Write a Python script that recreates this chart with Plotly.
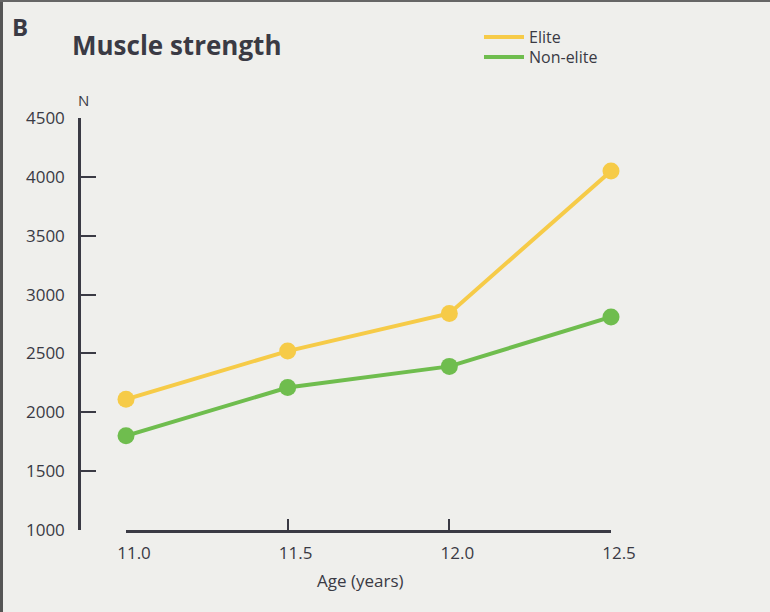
import plotly.graph_objects as go

ages = [11.0, 11.5, 12.0, 12.5]
elite = [2110, 2520, 2840, 4050]
non_elite = [1800, 2210, 2390, 2810]
y_ticks = [1000, 1500, 2000, 2500, 3000, 3500, 4000, 4500]
x_ticks = [11.0, 11.5, 12.0, 12.5]
x_tick_labels = ["11.0", "11.5", "12.0", "12.5"]

YELLOW = "#f6cb48"
GREEN = "#6fbd4e"
INK = "#3a3a44"
BG = "#efefec"
FONT = "Open Sans"

W, H = 770, 612
def px(x): return x / W
def py(y): return 1 - y / H

fig = go.Figure()

# legend-only entries live on the (hidden) x / y subplot so the y axis is anchored at its left edge
for name, col, lg in [("Elite", YELLOW, "legend"), ("Non-elite", GREEN, "legend2")]:
    fig.add_trace(go.Scatter(
        x=[None], y=[None], mode="lines", name=name, legend=lg,
        xaxis="x", yaxis="y",
        line=dict(color=col, width=4),
    ))
for name, vals, col in [("Elite", elite, YELLOW), ("Non-elite", non_elite, GREEN)]:
    fig.add_trace(go.Scatter(
        x=ages, y=vals, mode="lines+markers", name=name, showlegend=False,
        xaxis="x2", yaxis="y",
        line=dict(color=col, width=4),
        marker=dict(color=col, size=17),
        cliponaxis=False,
    ))

legend_common = dict(xanchor="left", yanchor="middle", bgcolor="rgba(0,0,0,0)",
                     font=dict(size=16, color=INK, family=FONT), itemwidth=40)

fig.update_layout(
    width=W, height=H,
    autosize=False,
    margin=dict(l=0, r=0, t=0, b=0, pad=0, autoexpand=False),
    paper_bgcolor=BG, plot_bgcolor=BG,
    font=dict(family=FONT, color=INK, size=16),
    hovermode=False,
    xaxis=dict(
        domain=[px(81), px(611)], range=[0, 1], visible=False, automargin=False,
        anchor="y", showgrid=False, zeroline=False,
    ),
    xaxis2=dict(
        domain=[px(126), px(611)], range=[11.0, 12.5],
        showgrid=False, zeroline=False, automargin=False,
        showline=True, linecolor=INK, linewidth=2.5,
        ticks="inside", ticklen=11, tickwidth=2, tickcolor=INK,
        tickvals=x_ticks, ticktext=x_tick_labels,
        ticklabelstandoff=6, ticklabelshift=8,
        tickfont=dict(size=17, color=INK, family=FONT),
        anchor="y",
    ),
    yaxis=dict(
        domain=[py(530), py(118)], range=[1000, 4500],
        showgrid=False, zeroline=False, automargin=False,
        showline=True, linecolor=INK, linewidth=2.5,
        ticks="inside", ticklen=15, tickwidth=2, tickcolor=INK,
        tickvals=y_ticks,
        ticklabelstandoff=10,
        tickfont=dict(size=17, color=INK, family=FONT),
        anchor="x",
    ),
    legend=dict(x=px(479), y=py(37), **legend_common),
    legend2=dict(x=px(479), y=py(57), **legend_common),
    annotations=[
        dict(text="<b>B</b>", x=px(10), y=py(8), xref="paper", yref="paper",
             xanchor="left", yanchor="top", showarrow=False,
             font=dict(size=24, color=INK, family=FONT)),
        dict(text="<b>Muscle strength</b>", x=px(70), y=py(25), xref="paper", yref="paper",
             xanchor="left", yanchor="top", showarrow=False,
             font=dict(size=26, color=INK, family=FONT)),
        dict(text="N", x=px(83), y=py(100), xref="paper", yref="paper",
             xanchor="center", yanchor="middle", showarrow=False,
             font=dict(size=15, color=INK, family=FONT)),
        dict(text="Age (years)", x=px(360), y=py(580), xref="paper", yref="paper",
             xanchor="center", yanchor="middle", showarrow=False,
             font=dict(size=17, color=INK, family=FONT)),
    ],
    shapes=[
        dict(type="line", xref="paper", yref="paper", x0=px(1.5), x1=px(1.5), y0=0, y1=1,
             line=dict(color="#555555", width=3)),
        dict(type="line", xref="paper", yref="paper", x0=0, x1=1, y0=py(1), y1=py(1),
             line=dict(color="#666666", width=2)),
    ],
)

fig.write_html("out.html", config={"displayModeBar": False},
               post_script="document.body.style.margin='0';document.body.style.overflow='hidden';")
